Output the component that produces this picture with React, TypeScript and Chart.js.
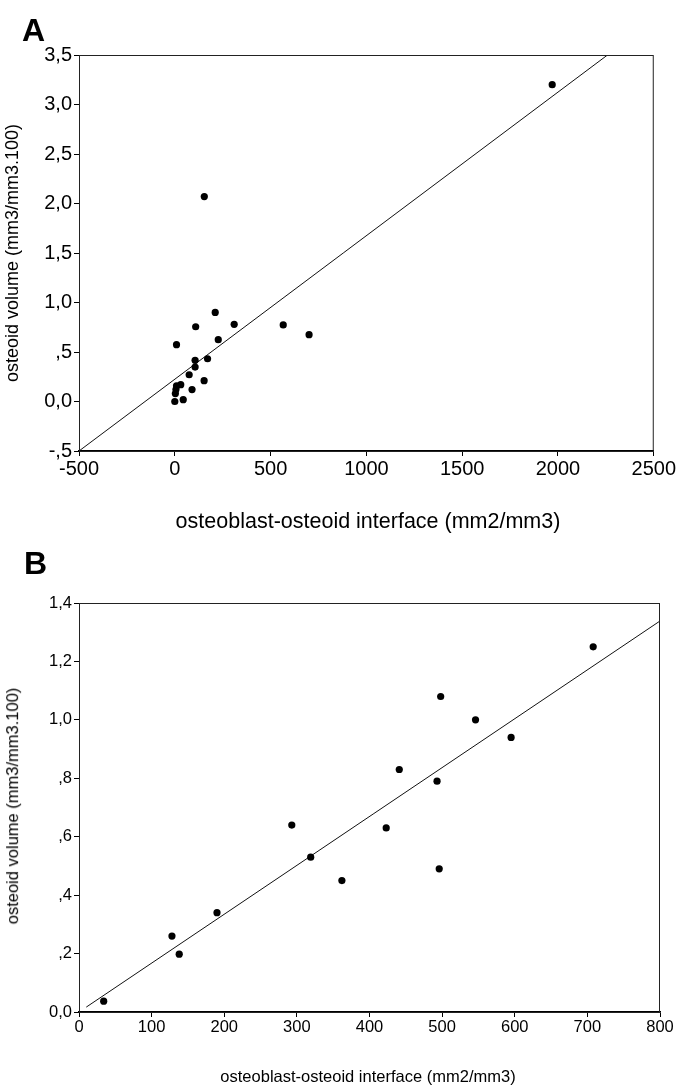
import React, { useEffect, useRef } from 'react';
import { Chart, registerables } from 'chart.js';
Chart.register(...registerables);

const FONT = "'Liberation Sans', Arial, Helvetica, sans-serif";

// ---------- Panel A data ----------
const aInterface = [154, 211, 109, 310, 9, 227, 566, 701, 106, 171, 106, 75, 153, 90, 31, 9, 44, 0, 3, 6, 1970];
const aVolume = [2.07, 0.9, 0.755, 0.78, 0.574, 0.624, 0.773, 0.675, 0.416, 0.432, 0.348, 0.27, 0.21, 0.12, 0.17, 0.157, 0.018, 0, 0.08, 0.12, 3.2];
const aFit = [0.225, 0.00145]; // intercept, slope
const aXTicks = [-500, 0, 500, 1000, 1500, 2000, 2500];
const aYTicks = [-0.5, 0, 0.5, 1, 1.5, 2, 2.5, 3, 3.5];

// ---------- Panel B data ----------
const bInterface = [34, 128, 138, 190, 293, 319, 362, 423, 441, 493, 498, 496, 546, 595, 708];
const bVolume = [0.037, 0.26, 0.198, 0.34, 0.64, 0.53, 0.45, 0.63, 0.83, 0.79, 1.08, 0.49, 1.0, 0.94, 1.25];
const bFit = [0.0, 0.001673]; // intercept, slope
const bFitStart = 10;
const bXTicks = [0, 100, 200, 300, 400, 500, 600, 700, 800];
const bYTicks = [0, 0.2, 0.4, 0.6, 0.8, 1.0, 1.2, 1.4];

const xTitle = 'osteoblast-osteoid interface (mm2/mm3)';
const yTitle = 'osteoid volume (mm3/mm3.100)';

function fmtDec(v: number): string {
  const r = Math.round(v * 10) / 10;
  if (r === 0) return '0,0';
  const s = Math.abs(r).toFixed(1).replace('.', ',');
  return (r < 0 ? '-' : '') + (Math.abs(r) < 1 ? s.slice(1) : s);
}

const framePlugin = {
  id: 'frame',
  afterDraw(chart: any) {
    const { ctx, chartArea } = chart;
    ctx.save();
    ctx.strokeStyle = '#222';
    ctx.lineWidth = 1;
    ctx.strokeRect(chartArea.left + 0.5, chartArea.top + 0.5, chartArea.right - chartArea.left - 1, chartArea.bottom - chartArea.top);
    ctx.restore();
  },
};

type PanelCfg = {
  xs: number[];
  ys: number[];
  fit: number[];
  fitX0: number;
  xTicks: number[];
  yTicks: number[];
  canvasH: number;
  padTop: number;
  padRight: number;
  yAxisW: number;
  xAxisH: number;
  tickFont: number;
  pointR: number;
};

function Panel({ cfg, style }: { cfg: PanelCfg; style: React.CSSProperties }) {
  const ref = useRef<HTMLCanvasElement>(null);
  useEffect(() => {
    const c = cfg;
    const xMin = c.xTicks[0];
    const xMax = c.xTicks[c.xTicks.length - 1];
    const yMin = c.yTicks[0];
    const yMax = c.yTicks[c.yTicks.length - 1];
    const xStep = c.xTicks[1] - c.xTicks[0];
    const yStep = c.yTicks[1] - c.yTicks[0];
    const [b0, b1] = c.fit;
    let x0 = c.fitX0;
    let y0 = b0 + b1 * x0;
    if (y0 < yMin) { y0 = yMin; x0 = (yMin - b0) / b1; }
    let x1 = xMax;
    let y1 = b0 + b1 * x1;
    if (y1 > yMax) { y1 = yMax; x1 = (yMax - b0) / b1; }
    const pts = c.xs.map((x, i) => ({ x, y: c.ys[i] }));
    const chart = new Chart(ref.current!, {
      type: 'scatter',
      data: {
        datasets: [
          {
            data: pts,
            backgroundColor: '#000',
            borderColor: '#000',
            pointRadius: c.pointR,
            pointBorderWidth: 0,
          },
          {
            type: 'line',
            data: [{ x: x0, y: y0 }, { x: x1, y: y1 }],
            borderColor: '#111',
            borderWidth: 1,
            pointRadius: 0,
            showLine: true,
            fill: false,
          } as any,
        ],
      },
      options: {
        animation: false,
        responsive: false,
        maintainAspectRatio: false,
        events: [],
        layout: { padding: { top: c.padTop, right: c.padRight, left: 0, bottom: 0 } },
        plugins: { legend: { display: false }, tooltip: { enabled: false } },
        scales: {
          x: {
            type: 'linear',
            min: xMin,
            max: xMax,
            afterFit: (s: any) => { s.height = c.xAxisH; },
            ticks: {
              stepSize: xStep,
              color: '#000',
              font: { family: FONT, size: c.tickFont },
              padding: 1,
              maxRotation: 0,
              autoSkip: false,
              callback: (v: any) => String(v),
            },
            grid: { display: true, drawOnChartArea: false, drawTicks: true, tickLength: 5, color: '#000' },
            border: { display: true, color: '#000', width: 1.5 },
          },
          y: {
            type: 'linear',
            min: yMin,
            max: yMax,
            afterFit: (s: any) => { s.width = c.yAxisW; },
            ticks: {
              stepSize: yStep,
              color: '#000',
              font: { family: FONT, size: c.tickFont },
              padding: 2,
              autoSkip: false,
              callback: (v: any) => fmtDec(Number(v)),
            },
            grid: { display: true, drawOnChartArea: false, drawTicks: true, tickLength: 5, color: '#000' },
            border: { display: true, color: '#000', width: 1 },
          },
        },
      },
      plugins: [framePlugin],
    });
    return () => chart.destroy();
  }, []);
  return (
    <canvas ref={ref} width={677} height={cfg.canvasH} style={{ position: 'absolute', left: 0, width: 677, height: cfg.canvasH, ...style }} />
  );
}

const cfgA: PanelCfg = {
  xs: aInterface, ys: aVolume, fit: aFit, fitX0: aXTicks[0],
  xTicks: aXTicks, yTicks: aYTicks,
  canvasH: 540, padTop: 55, padRight: 20, yAxisW: 79, xAxisH: 89,
  tickFont: 20, pointR: 3.6,
};

const cfgB: PanelCfg = {
  xs: bInterface, ys: bVolume, fit: bFit, fitX0: bFitStart,
  xTicks: bXTicks, yTicks: bYTicks,
  canvasH: 546, padTop: 63, padRight: 17, yAxisW: 79, xAxisH: 74,
  tickFont: 16.5, pointR: 3.6,
};

const letterStyle: React.CSSProperties = {
  position: 'absolute', fontFamily: FONT, fontWeight: 'bold', fontSize: 32, lineHeight: '32px', color: '#000',
};

function YTitle({ x, y, size, text }: { x: number; y: number; size: number; text: string }) {
  return (
    <div style={{
      position: 'absolute', left: x, top: y, transform: 'translate(-50%, -50%) rotate(-90deg)',
      fontFamily: FONT, fontSize: size, lineHeight: '1.2', whiteSpace: 'nowrap', color: '#000',
    }}>{text}</div>
  );
}

function XTitle({ cx, cy, size, text }: { cx: number; cy: number; size: number; text: string }) {
  return (
    <div style={{
      position: 'absolute', left: cx, top: cy, transform: 'translate(-50%, -50%)',
      fontFamily: FONT, fontSize: size, lineHeight: '1.2', whiteSpace: 'nowrap', color: '#000',
    }}>{text}</div>
  );
}

export default function App() {
  return (
    <div style={{ position: 'absolute', left: 0, top: 0, width: 677, height: 1086, background: '#fff', overflow: 'hidden' }}>
      <Panel cfg={cfgA} style={{ top: 0 }} />
      <Panel cfg={cfgB} style={{ top: 540 }} />
      <div style={{ ...letterStyle, left: 22, top: 14 }}>A</div>
      <div style={{ ...letterStyle, left: 24, top: 547 }}>B</div>
      <YTitle x={13} y={253} size={18} text={yTitle} />
      <XTitle cx={368} cy={522} size={21.5} text={xTitle} />
      <YTitle x={13} y={806} size={16.5} text={yTitle} />
      <XTitle cx={368} cy={1077} size={16.5} text={xTitle} />
    </div>
  );
}
